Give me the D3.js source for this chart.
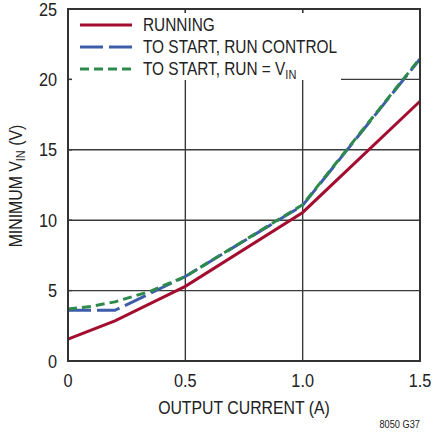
<!DOCTYPE html>
<html>
<head>
<meta charset="utf-8">
<script src="https://cdn.jsdelivr.net/npm/d3@7"></script>
<style>
  html, body { margin: 0; padding: 0; background: #fff; }
  svg { display: block; }
  text { font-family: 'Liberation Sans Narrow', 'Arial Narrow', 'Liberation Sans', sans-serif; fill: #222; }
</style>
</head>
<body>
<svg id="chart" width="435" height="433"></svg>
<script>
// Output current (A) and minimum input voltage (V) for each curve
const runningCurrent = [0, 0.2, 0.35, 0.5, 1.0, 1.5];
const runningVin     = [1.55, 2.85, 4.07, 5.3, 10.55, 18.45];

const runCtrlCurrent = [0, 0.2, 0.35, 0.5, 1.0, 1.5];
const runCtrlVin     = [3.6, 3.6, 4.8, 6.0, 11.05, 21.45];

const runVinCurrent  = [0, 0.1, 0.2, 0.35, 0.5, 1.0, 1.5];
const runVinVin      = [3.7, 3.88, 4.2, 4.95, 6.0, 11.1, 21.5];

const xTicks = [0, 0.5, 1.0, 1.5];
const xTickLabels = ["0", "0.5", "1.0", "1.5"];
const yTicks = [0, 5, 10, 15, 20, 25];

const colors = { running: "#a30d2f", ctrl: "#3d5dab", vin: "#2e8a4c" };

const svg = d3.select("#chart");
const plot = { left: 68, right: 420, top: 9, bottom: 361 };

const x = d3.scaleLinear().domain([0, 1.5]).range([plot.left, plot.right]);
const y = d3.scaleLinear().domain([0, 25]).range([plot.bottom, plot.top]);

// condensed lettering: squeeze the regular sans horizontally
const NARROW = 0.88;
function label(parent, px, py, size, anchor, extra) {
  return parent.append("text")
    .attr("transform", `translate(${px},${py})${extra || ""} scale(${NARROW},1)`)
    .attr("text-anchor", anchor)
    .attr("font-size", size);
}

// grid
const grid = svg.append("g").attr("stroke", "#3a3a3a").attr("stroke-width", 1.4);
xTicks.slice(1, -1).forEach(t => {
  grid.append("line").attr("x1", x(t)).attr("x2", x(t)).attr("y1", plot.top).attr("y2", plot.bottom);
});
yTicks.slice(1, -1).forEach(t => {
  grid.append("line").attr("x1", plot.left).attr("x2", plot.right).attr("y1", y(t)).attr("y2", y(t));
});

// legend panel hides the grid behind it
svg.append("rect").attr("x", 72).attr("y", 13).attr("width", 269).attr("height", 67).attr("fill", "#fff");

// inward tick marks along the frame
const ticks = svg.append("g").attr("stroke", "#3a3a3a").attr("stroke-width", 1.4);
xTicks.slice(1, -1).forEach(t => {
  ticks.append("line").attr("x1", x(t)).attr("x2", x(t)).attr("y1", plot.top).attr("y2", plot.top + 4);
});
yTicks.slice(1, -1).forEach(t => {
  ticks.append("line").attr("x1", plot.left).attr("x2", plot.left + 4).attr("y1", y(t)).attr("y2", y(t));
});

// curves
const line = d3.line().x(d => x(d[0])).y(d => y(d[1]));
const series = [
  { cur: runningCurrent, vin: runningVin, color: colors.running, dash: null },
  { cur: runCtrlCurrent, vin: runCtrlVin, color: colors.ctrl, dash: "23 6" },
  { cur: runVinCurrent, vin: runVinVin, color: colors.vin, dash: "9 5" }
];
series.forEach(s => {
  svg.append("path")
    .datum(d3.zip(s.cur, s.vin))
    .attr("d", line)
    .attr("fill", "none")
    .attr("stroke", s.color)
    .attr("stroke-width", 3)
    .attr("stroke-dasharray", s.dash);
});

// frame
svg.append("rect")
  .attr("x", plot.left).attr("y", plot.top)
  .attr("width", plot.right - plot.left).attr("height", plot.bottom - plot.top)
  .attr("fill", "none").attr("stroke", "#333").attr("stroke-width", 2);

// tick labels
const fs = 18.5;
const labels = svg.append("g");
xTicks.forEach((t, i) => {
  label(labels, x(t), 387, fs, "middle").text(xTickLabels[i]);
});
yTicks.forEach(t => {
  label(labels, 57, y(t) + 6.5, fs, "end").text(t);
});

// axis titles
label(svg, 244, 414, 18, "middle").text("OUTPUT CURRENT (A)");

const yt = label(svg, 22, 186, 18, "middle", " rotate(-90)");
yt.append("tspan").text("MINIMUM V");
yt.append("tspan").attr("font-size", 12.5).attr("dy", 3).text("IN");
yt.append("tspan").attr("dy", -3).text(" (V)");

label(svg, 420, 428, 10.5, "end").text("8050 G37");

// legend
const legendItems = [
  { label: "RUNNING", color: colors.running, dash: null, y: 25 },
  { label: "TO START, RUN CONTROL", color: colors.ctrl, dash: "23 6", y: 47 },
  { label: "TO START, RUN = V", sub: "IN", color: colors.vin, dash: "9 5", y: 69 }
];
legendItems.forEach(it => {
  svg.append("line").attr("x1", 80).attr("x2", 132).attr("y1", it.y).attr("y2", it.y)
    .attr("stroke", it.color).attr("stroke-width", 3).attr("stroke-dasharray", it.dash);
  const t = label(svg, 143, it.y + 6.3, 17.5, "start");
  t.append("tspan").text(it.label);
  if (it.sub) t.append("tspan").attr("font-size", 12.5).attr("dy", 3.5).text(it.sub);
});
</script>
</body>
</html>
